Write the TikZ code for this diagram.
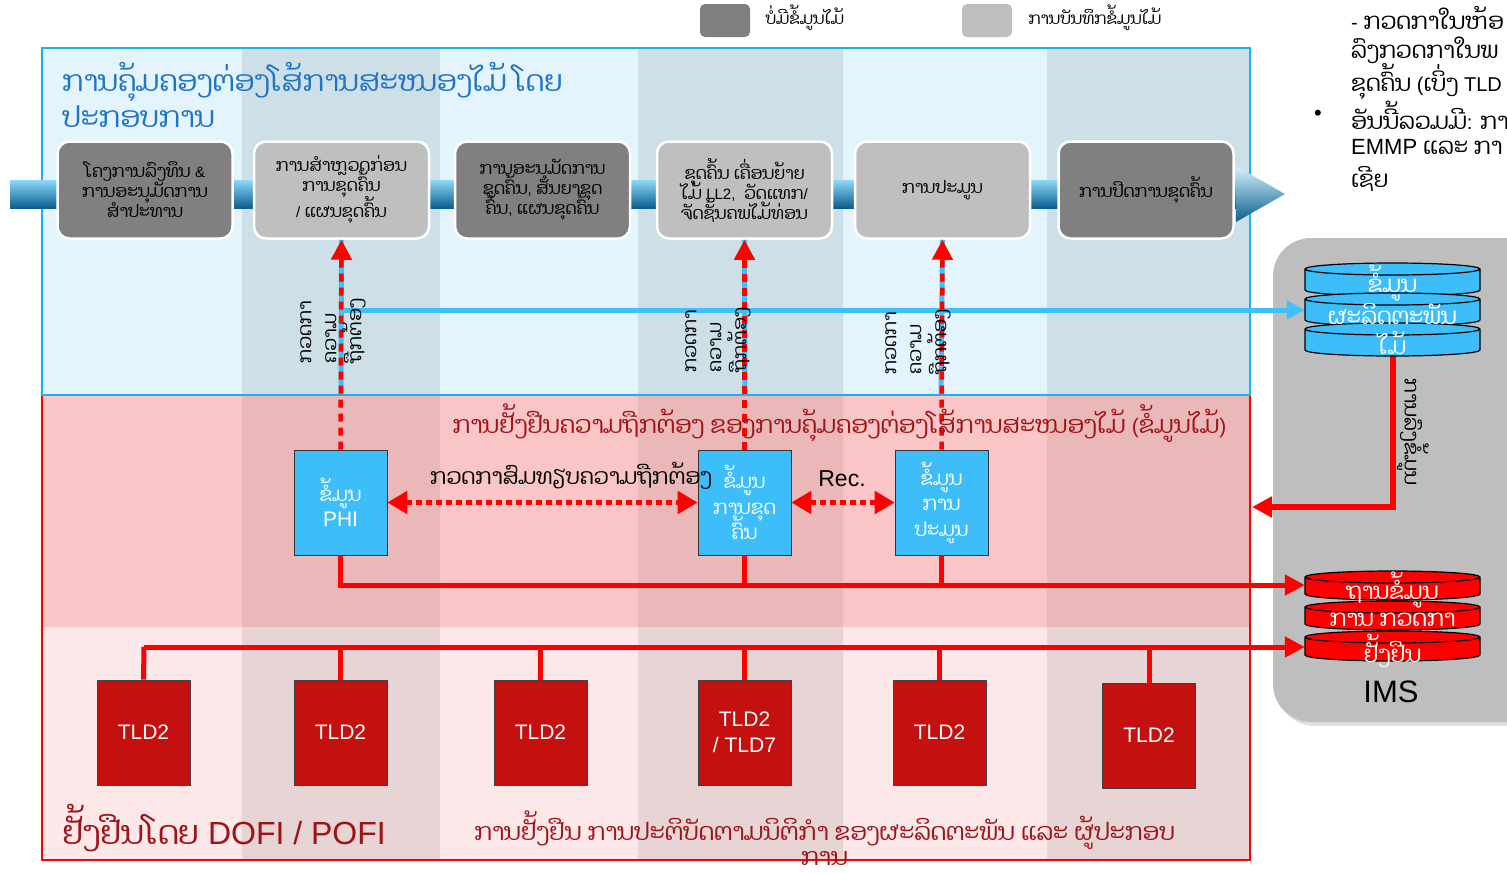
\documentclass[tikz,border=0pt]{standalone}
\usepackage{fontspec}
\setmainfont{Liberation Sans}
\newfontfamily\lao[Script=Lao, Scale=1.15]{Dhyana}
\newcommand\LT[1]{{\normalfont #1}}
\newcommand\nols{\lineskiplimit=-60pt\relax}
\usetikzlibrary{arrows.meta,shadows}
\definecolor{dgray}{HTML}{808080}
\definecolor{lgray}{HTML}{BFBFBF}
\definecolor{bluepanel}{HTML}{E3F4FC}
\definecolor{bluecol}{HTML}{CDDFE7}
\definecolor{bluebord}{HTML}{1AB2EC}
\definecolor{pinkA}{HTML}{F9C5C6}
\definecolor{pinkB}{HTML}{EBB8B9}
\definecolor{pinkC}{HTML}{FDE8E9}
\definecolor{pinkD}{HTML}{E7D4D5}
\definecolor{cyanbox}{HTML}{3DBEF9}
\definecolor{tldred}{HTML}{C51010}
\definecolor{blueln}{HTML}{3EC1F7}
\definecolor{titleblue}{HTML}{1F74C4}
\definecolor{darkred}{HTML}{9E1317}
\definecolor{imsgray}{HTML}{BEBEBE}
\definecolor{bandtop}{HTML}{8ED8FA}
\definecolor{bandmid}{HTML}{3DB8EE}
\definecolor{bandbot}{HTML}{0A5E8C}
\definecolor{headtop}{HTML}{D6F3FF}
\newcommand\mydisc[3]{%
  \draw[fill=#3, line width=1.2pt] (1305,{#1+6}) -- (1305,{#2-6})
    arc[start angle=180,end angle=0,x radius=87.5,y radius=6] -- (1480,{#1+6})
    arc[start angle=0,end angle=-180,x radius=87.5,y radius=6] -- cycle;
  \draw[line width=1.2pt] (1305,{#1+6}) arc[start angle=180,end angle=0,x radius=87.5,y radius=6];
}
\begin{document}
\begin{tikzpicture}[x=1pt,y=-1pt,
  procbox/.style={draw=white, line width=2.5pt, rounded corners=12pt, minimum width=175pt, minimum height=97pt, align=center, font=\lao\fontsize{15}{20}\selectfont\nols, inner sep=1pt},
  infobox/.style={draw=black!80, line width=0.6pt, fill=cyanbox, minimum width=93pt, minimum height=105pt, align=center, text=white, font=\lao\fontsize{17}{25.5}\selectfont\nols, inner sep=1pt},
  tldbox/.style={draw=black!75, line width=0.6pt, fill=tldred, minimum width=93pt, minimum height=105pt, align=center, text=white, font=\fontsize{21}{26}\selectfont},
  redln/.style={draw=red, line width=5pt},
  bluel/.style={draw=blueln, line width=5pt},
  reddash/.style={draw=red, line width=4.5pt, dash pattern=on 8pt off 6pt},
  reddot/.style={draw=red, line width=5.5pt, dash pattern=on 6pt off 4pt},
  vlabel/.style={rotate=90, align=left, font=\lao\fontsize{16.5}{25}\selectfont\nols, inner sep=0pt},
  legbox/.style={rounded corners=5pt, minimum width=50pt, minimum height=33pt, inner sep=0pt},
  disctext/.style={text=white, font=\lao\fontsize{20}{24}\selectfont, inner sep=0pt},
  tip/.style={-{Triangle[length=20pt,width=20pt]}},
]
\useasboundingbox (0,0) rectangle (1507,873);
% legend
\node[legbox, fill=dgray] (lg1) at (725,20.5) {};
\node[anchor=west, font=\lao\fontsize{14.3}{18}\selectfont] (lt1) at (762,18) {ບໍ່ມີຂໍ້ມູນໄມ້};
\node[legbox, fill=lgray] (lg2) at (987,20.5) {};
\node[anchor=west, font=\lao\fontsize{14.3}{18}\selectfont] (lt2) at (1025,18) {ການບັນທຶກຂໍ້ມູນໄມ້};
% top right notes
\begin{scope}[every node/.style={anchor=west, font=\lao\fontsize{20}{24}\selectfont, inner sep=0pt}]
\node (tr1) at (1351,18) {\LT{-} ກວດກາໃນຫ້ອ};
\node (tr2) at (1351,50) {ລົງກວດກາໃນພ};
\node (tr3) at (1351,82) {ຂຸດຄົ້ນ \LT{(}ເບິ່ງ \LT{TLD}};
\node (trb) at (1314,115) {\LT{\fontsize{22}{24}\selectfont •}};
\node (tr4) at (1351,115) {ອັນນີ້ລວມມີ\LT{:} ກາ};
\node (tr5) at (1351,147) {\LT{\fontsize{22}{24}\selectfont EMMP} ແລະ ກາ};
\node (tr6) at (1351,179) {ເຊີຍ};
\end{scope}
% panels
\fill[pinkA] (42,395) rectangle (1250,627);
\fill[pinkB] (242,395) rectangle (440,627) (638,395) rectangle (843,627) (1047,395) rectangle (1250,627);
\fill[pinkC] (42,627) rectangle (1250,860);
\fill[pinkD] (242,627) rectangle (440,860) (638,627) rectangle (843,860) (1047,627) rectangle (1250,860);
\draw[red, line width=2pt] (42,395) rectangle (1250,860);
\fill[bluepanel] (42,48) rectangle (1250,395);
\fill[bluecol] (242,48) rectangle (440,395) (638,48) rectangle (843,395) (1047,48) rectangle (1250,395);
\draw[bluebord, line width=2.2pt] (42,48) rectangle (1250,395);
% IMS panel
\fill[imsgray, rounded corners=38pt, drop shadow={shadow xshift=4pt, shadow yshift=-4pt, opacity=0.25}] (1273,238) rectangle (1560,722);
% process band
\shade[top color=bandtop, middle color=bandmid, bottom color=bandbot] (10,180) rectangle (1238,208);
\shade[top color=headtop, middle color=bandmid, bottom color=bandbot] (1236,166) -- (1285,194) -- (1236,222) -- cycle;
% title
\node[anchor=base west, align=left, text=titleblue, font=\lao\fontsize{25.2}{36}\selectfont\nols, inner sep=0pt] (title) at (62,127) {ການຄຸ້ມຄອງຕ່ອງໂສ້ການສະໜອງໄມ້ ໂດຍ\\ປະກອບການ};
% process boxes
\node[procbox, fill=dgray] (p1) at (145,190) {ໂຄງການລົງທຶນ \LT{\&}\\ການອະນຸມັດການ\\ສຳປະທານ};
\node[procbox, fill=lgray] (p2) at (341.5,190) {ການສຳຫຼວດກ່ອນ\\ການຂຸດຄົ້ນ\\[6pt]\LT{/} ແຜນຂຸດຄົ້ນ};
\node[procbox, fill=dgray] (p3) at (542.5,190) {ການອະນຸມັດການ\\ຂຸດຄົ້ນ\LT{,} ສັນຍາຂຸດ\\ຄົ້ນ\LT{,} ແຜນຂຸດຄົ້ນ};
\node[procbox, fill=lgray] (p4) at (744.5,190) {ຂຸດຄົ້ນ ເຄື່ອນຍ້າຍ\\ໄມ້ \LT{LL2,}\ \ ວັດແທກ\LT{/}\\ຈັດຊັ້ນຄພໄມ້ທ່ອນ};
\node[procbox, fill=lgray] (p5) at (942.5,190) {ການປະມູນ};
\node[procbox, fill=dgray] (p6) at (1146,190) {ການປິດການຂຸດຄົ້ນ};
% info boxes
\node[infobox] (phi) at (340.5,502.5) {ຂໍ້ມູນ\\\LT{\fontsize{21}{25.5}\selectfont PHI}};
\node[infobox] (hx) at (744.5,502.5) {ຂໍ້ມູນ\\ການຂຸດ\\ຄົ້ນ};
\node[infobox] (au) at (941.5,502.5) {ຂໍ້ມູນ\\ການ\\ປະມູນ};
% TLD boxes
\node[tldbox] (t1) at (143.5,732.5) {TLD2};
\node[tldbox] (t2) at (340.5,732.5) {TLD2};
\node[tldbox] (t3) at (540.5,732.5) {TLD2};
\node[tldbox] (t4) at (744.5,732.5) {TLD2\\/ TLD7};
\node[tldbox] (t5) at (939.5,732.5) {TLD2};
\node[tldbox] (t6) at (1149,735.5) {TLD2};
% database stacks (anchors)
\node[minimum width=175pt, minimum height=93pt, inner sep=0pt] (dbb) at (1392.5,309.5) {};
\node[minimum width=175pt, minimum height=90pt, inner sep=0pt] (dbr) at (1392.5,616) {};
% coordinates
\coordinate (b1) at (341,394);
\coordinate (b2) at (745,394);
\coordinate (b3) at (941,394);
\coordinate (h1) at (341,310);
\coordinate (r1) at (341,585);
\coordinate (r2) at (144,647);
\coordinate (e1) at (1252,507);
% blue lines
\draw[bluel] (p2.south) -- (b1);
\draw[bluel] (p4.south) -- (b2);
\draw[bluel] (p5.south) -- (b3);
\draw[bluel, -{Triangle[length=18pt,width=18pt]}] (h1) -- (h1 -| dbb.west);
% red dashed verticals
\draw[reddash, tip] (phi.north) -- (p2.south);
\draw[reddash, tip] (hx.north) -- (p4.south);
\draw[reddash, tip] (au.north) -- (p5.south);
% dotted horizontals
\draw[reddot, {Triangle[length=20pt,width=22pt]}-{Triangle[length=20pt,width=22pt]}] (phi.east) -- (hx.west);
\draw[reddot, {Triangle[length=20pt,width=22pt]}-{Triangle[length=20pt,width=22pt]}] (hx.east) -- (au.west);
% red solid
\draw[redln, tip] (phi.south) |- (r1 -| dbr.west);
\draw[redln] (hx.south) -- (hx.south |- r1);
\draw[redln] (au.south) -- (au.south |- r1);
\draw[redln, tip] (r2) -- (r2 -| dbr.west);
\draw[redln] (r2) -- (t1.north);
\draw[redln] (t2.north |- r2) -- (t2.north);
\draw[redln] (t3.north |- r2) -- (t3.north);
\draw[redln] (t4.north |- r2) -- (t4.north);
\draw[redln] (t5.north |- r2) -- (t5.north);
\draw[redln] (t6.north |- r2) -- (t6.north);
\draw[redln, line width=6pt, tip] (dbb.south) |- (e1);
% discs
\mydisc{263}{296}{cyanbox}
\mydisc{293}{326}{cyanbox}
\mydisc{323}{356}{cyanbox}
\mydisc{571}{600}{red}
\mydisc{601}{630}{red}
\mydisc{631}{661}{red}
\node[disctext] (d1) at (1392.5,283) {ຂໍ້ມູນ};
\node[disctext] (d2) at (1392.5,314) {ຜະລິດຕະພັນ};
\node[disctext] (d3) at (1392.5,343) {ໄມ້};
\node[disctext] (d4) at (1392.5,590) {ຖານຂໍ້ມູນ};
\node[disctext] (d5) at (1392.5,620) {ການ ກວດກາ};
\node[disctext] (d6) at (1392.5,651) {ຢັ້ງຢືນ};
\node[font=\fontsize{31}{34}\selectfont] (ims) at (1391,692) {IMS};
\node[rotate=-90, font=\lao\fontsize{17.5}{20}\selectfont, inner sep=0pt] (lgz) at (1413,432) {ການລົງຂໍ້ມູນ};
% vertical labels
\node[vlabel] (v1) at (333,331) {ກວດກາ\\ຄວາມ\\ຖືກຕ້ອງ};
\node[vlabel] (v2) at (718,340) {ກວດກາ\\ຄວາມ\\ຖືກຕ້ອງ};
\node[vlabel] (v3) at (918,342) {ກວດກາ\\ຄວາມ\\ຖືກຕ້ອງ};
% red panel texts
\node[text=darkred, font=\lao\fontsize{21}{24}\selectfont, inner sep=0pt] (midt) at (839.5,423) {ການຢັ້ງຢືນຄວາມຖືກຕ້ອງ ຂອງການຄຸ້ມຄອງຕ່ອງໂສ້ການສະໜອງໄມ້ \LT{(}ຂໍ້ມູນໄມ້\LT{)}};
\node[font=\lao\fontsize{19.2}{22}\selectfont, inner sep=0pt] (cmp) at (571,476) {ກວດກາສົມທຽບຄວາມຖືກຕ້ອງ};
\node[font=\fontsize{23}{26}\selectfont, inner sep=0pt] (rec) at (842,479) {Rec.};
\node[anchor=west, text=darkred, font=\fontsize{32}{36}\selectfont, inner sep=0pt] (dofi) at (62,828) {{\lao\fontsize{28.5}{36}\selectfont ຢັ້ງຢືນໂດຍ} DOFI / POFI};
\node[anchor=north, align=center, text=darkred, font=\lao\fontsize{21}{25}\selectfont\nols, inner sep=0pt] (cert) at (824.5,811) {ການຢັ້ງຢືນ ການປະຕິບັດຕາມນິຕິກຳ ຂອງຜະລິດຕະພັນ ແລະ ຜູ້ປະກອບ\\ການ};
\end{tikzpicture}
\end{document}
